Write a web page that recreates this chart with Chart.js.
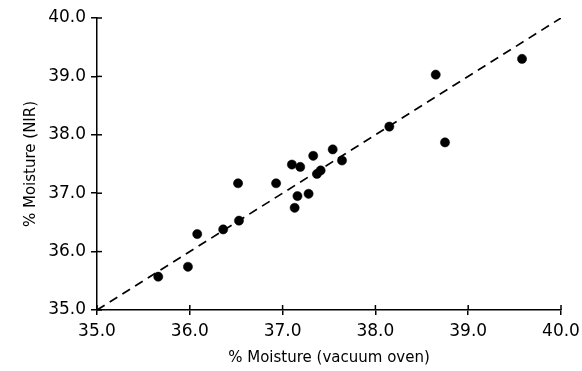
<!DOCTYPE html>
<html>
<head>
<meta charset="utf-8">
<script src="https://cdn.jsdelivr.net/npm/chart.js@4.4.0/dist/chart.umd.min.js"></script>
<style>
  html, body { margin: 0; padding: 0; background: #fff; }
  #wrap { width: 582px; height: 371px; }
</style>
</head>
<body>
<div id="wrap"><canvas id="moistureChart"></canvas></div>
<script>
// % moisture, vacuum oven (x) vs NIR (y)
const ovenValues = [35.66, 35.98, 36.08, 36.36, 36.52, 36.53, 36.93, 37.10, 37.19, 37.13, 37.16,
  37.28, 37.33, 37.37, 37.41, 37.54, 37.64, 38.15, 38.65, 38.75, 39.58];
const nirValues = [35.57, 35.74, 36.30, 36.38, 37.17, 36.53, 37.17, 37.49, 37.45, 36.75, 36.95,
  36.99, 37.64, 37.33, 37.39, 37.75, 37.56, 38.14, 39.03, 37.87, 39.30];
const lineX = [35, 40];
const lineY = [35, 40];
const tickValues = [35, 36, 37, 38, 39, 40];

const points = ovenValues.map((x, i) => ({ x, y: nirValues[i] }));
const ideal = lineX.map((x, i) => ({ x, y: lineY[i] }));

const tickFont = { family: 'DejaVu Sans', size: 17 };
const titleFont = { family: 'DejaVu Sans', size: 15 };

// ticks that poke into the plot area too
const innerTicks = {
  id: 'innerTicks',
  afterDraw(chart) {
    const { ctx, chartArea, scales } = chart;
    ctx.save();
    ctx.strokeStyle = '#000';
    ctx.lineWidth = 1.5;
    tickValues.forEach(v => {
      const px = scales.x.getPixelForValue(v);
      ctx.beginPath();
      ctx.moveTo(px, chartArea.bottom);
      ctx.lineTo(px, chartArea.bottom - 5);
      ctx.stroke();
      const py = scales.y.getPixelForValue(v);
      ctx.beginPath();
      ctx.moveTo(chartArea.left, py);
      ctx.lineTo(chartArea.left + 5, py);
      ctx.stroke();
    });
    ctx.restore();
  }
};

new Chart(document.getElementById('moistureChart'), {
  type: 'scatter',
  data: {
    datasets: [
      {
        type: 'line',
        data: ideal,
        borderColor: '#000',
        borderWidth: 1.7,
        borderDash: [9, 6],
        pointRadius: 0,
        fill: false
      },
      {
        data: points,
        backgroundColor: '#000',
        borderColor: '#000',
        borderWidth: 0.5,
        pointRadius: 4.6,
        pointHoverRadius: 4.6
      }
    ]
  },
  options: {
    responsive: true,
    maintainAspectRatio: false,
    animation: false,
    layout: { padding: { left: 18, top: 18, right: 21, bottom: 0 } },
    plugins: { legend: { display: false }, tooltip: { enabled: false } },
    scales: {
      x: {
        type: 'linear',
        min: 35, max: 40,
        afterBuildTicks: s => { s.ticks = tickValues.map(v => ({ value: v })); },
        afterFit: s => { s.height = 61; s.paddingLeft = 0; s.paddingRight = 0; },
        ticks: { color: '#000', font: tickFont, padding: 6, callback: v => v.toFixed(1) },
        grid: { drawOnChartArea: false, drawTicks: true, tickLength: 5, color: '#000', lineWidth: 1.5 },
        border: { color: '#000', width: 1.5 },
        title: { display: true, text: '% Moisture (vacuum oven)', color: '#000', font: titleFont, padding: { top: 10 } }
      },
      y: {
        type: 'linear',
        min: 35, max: 40,
        afterBuildTicks: s => { s.ticks = tickValues.map(v => ({ value: v })); },
        afterFit: s => { s.width = 79; s.paddingTop = 0; s.paddingBottom = 0; },
        ticks: { color: '#000', font: tickFont, padding: 5, callback: v => v.toFixed(1) },
        grid: { drawOnChartArea: false, drawTicks: true, tickLength: 6, color: '#000', lineWidth: 1.5 },
        border: { color: '#000', width: 1.5 },
        title: { display: true, text: '% Moisture (NIR)', color: '#000', font: titleFont, padding: { bottom: 4 } }
      }
    }
  },
  plugins: [innerTicks]
});
</script>
</body>
</html>
